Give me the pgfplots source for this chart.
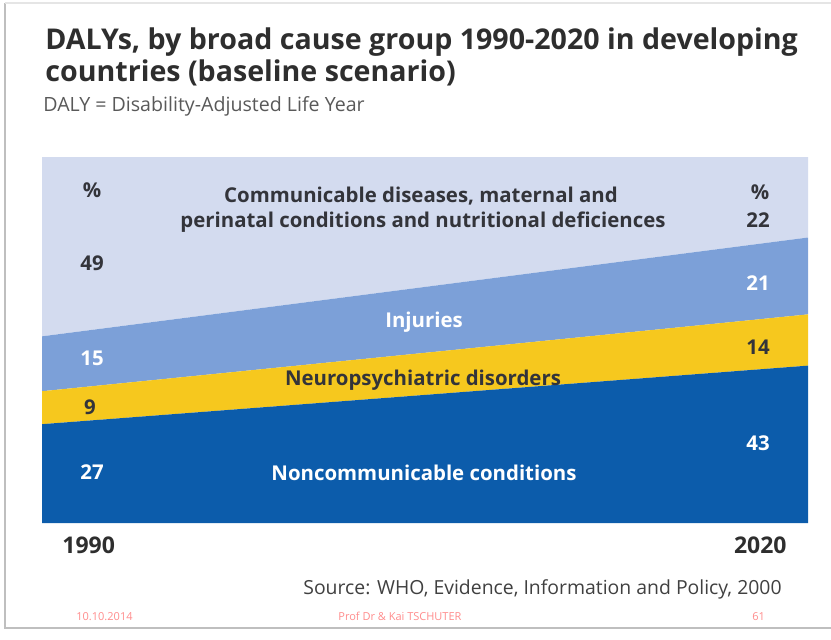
\documentclass[border=0pt]{standalone}
\usepackage{pgfplots}
\pgfplotsset{compat=1.18}
\usepackage{fontspec}
\setmainfont{Open Sans}
\definecolor{cdark}{HTML}{0C5CAB}
\definecolor{cyellow}{HTML}{F6C81E}
\definecolor{cinj}{HTML}{7CA0D8}
\definecolor{ccomm}{HTML}{D3DBEF}
\definecolor{ttext}{HTML}{2E2E2E}
\definecolor{lbl}{HTML}{33343A}
\begin{document}
\begin{tikzpicture}
\path[use as bounding box] (0,0) rectangle (415.5pt,319.5pt);
\begin{axis}[at={(21pt,58pt)}, anchor=south west, scale only axis,
  width=383pt, height=183pt, xmin=1990, xmax=2020, ymin=0, ymax=100,
  axis lines=none, stack plots=y, clip=false]
\addplot[fill=cdark, draw=none] coordinates {(1990,27) (2020,43)} \closedcycle;
\addplot[fill=cyellow, draw=none] coordinates {(1990,9) (2020,14)} \closedcycle;
\addplot[fill=cinj, draw=none] coordinates {(1990,15) (2020,21)} \closedcycle;
\addplot[fill=ccomm, draw=none] coordinates {(1990,49) (2020,22)} \closedcycle;
\end{axis}
\begin{scope}[x=0.5pt,y=-0.5pt,yshift=319.5pt]
\draw[black!25, line width=1.2pt] (5,3) -- (5,628) -- (831,628);
\draw[black!10, line width=0.6pt] (5,3) -- (831,3);
% title
\node[anchor=base west, text=ttext, font=\bfseries\fontsize{14.3}{15}\selectfont, inner sep=0] at (45,50) {DALYs, by broad cause group 1990-2020 in developing};
\node[anchor=base west, text=ttext, font=\bfseries\fontsize{14.3}{15}\selectfont, inner sep=0] at (45,82) {countries (baseline scenario)};
\node[anchor=base west, text=black!65, font=\fontsize{9.8}{11}\selectfont, inner sep=0] at (43,111) {DALY = Disability-Adjusted Life Year};
% labels in chart
\tikzset{lb/.style={font=\bfseries\fontsize{10.2}{11}\selectfont, inner sep=0, anchor=base}}
\node[lb, text=lbl] at (92,197) {\%};
\node[lb, text=lbl] at (760,199) {\%};
\node[lb, text=lbl] at (421,202) {Communicable diseases, maternal and};
\node[lb, text=lbl] at (423,227) {perinatal conditions and nutritional deficiences};
\node[lb, text=lbl] at (758,227) {22};
\node[lb, text=lbl] at (92,270) {49};
\node[lb, text=white] at (758,290) {21};
\node[lb, text=white] at (424,327) {Injuries};
\node[lb, text=white] at (92,365) {15};
\node[lb, text=lbl] at (758,354) {14};
\node[lb, text=lbl] at (423,385) {Neuropsychiatric disorders};
\node[lb, text=lbl] at (90,414) {9};
\node[lb, text=white] at (758,450) {43};
\node[lb, text=white] at (92,479) {27};
\node[lb, text=white] at (424,480) {Noncommunicable conditions};
% years
\node[anchor=base west, text=ttext, font=\bfseries\fontsize{11.5}{12}\selectfont, inner sep=0] at (62,553) {1990};
\node[anchor=base east, text=ttext, font=\bfseries\fontsize{11.5}{12}\selectfont, inner sep=0] at (787,553) {2020};
\node[anchor=base east, text=black!75, font=\fontsize{9.7}{10}\selectfont, inner sep=0] at (782,594) {Source: WHO, Evidence, Information and Policy, 2000};
% footer
\node[anchor=base west, text=red!45, font=\fontsize{5.5}{6}\selectfont, inner sep=0] at (76,620) {10.10.2014};
\node[anchor=base west, text=red!45, font=\fontsize{5.5}{6}\selectfont, inner sep=0] at (338,620) {Prof Dr \& Kai TSCHUTER};
\node[anchor=base west, text=red!45, font=\fontsize{5.5}{6}\selectfont, inner sep=0] at (752,620) {61};
\end{scope}
\end{tikzpicture}
\end{document}
